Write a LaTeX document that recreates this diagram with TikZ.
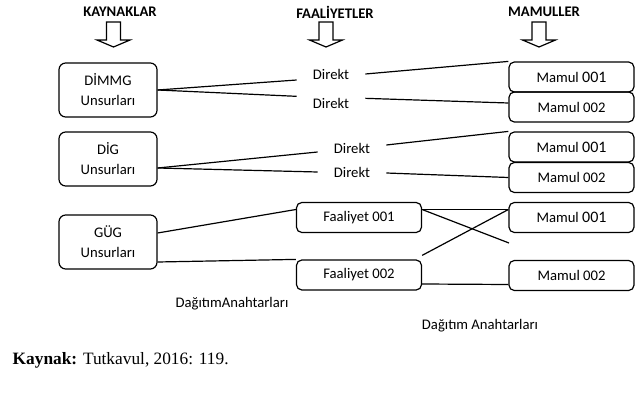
\documentclass[tikz,border=0pt]{standalone}
\usepackage{fontspec}
\setmainfont{Carlito}
\newfontfamily\timesfont{Liberation Serif}

\begin{document}
\begin{tikzpicture}[
        x=0.75pt,y=-0.75pt,
        every node/.style={font=\fontsize{11}{15}\selectfont},
        header/.style={font=\fontsize{11}{13}\selectfont\bfseries},
        source/.style={draw,rounded corners=5pt,minimum width=73.5pt,minimum height=40.5pt,align=center,line width=0.9pt},
        product/.style={draw,rounded corners=4pt,minimum width=93.75pt,minimum height=22.5pt,line width=0.9pt},
        direkt/.style={inner xsep=12pt},
        link/.style={line width=0.9pt}
    ]
        \useasboundingbox (0,0) rectangle (644,414);

        % Define the headers and the big arrows
        \node[header] (kaynaklar) at (120,12) {KAYNAKLAR};
        \node[header] (faaliyetler) at (335,12) {FAALİYETLER};
        \node[header] (mamuller) at (544,12) {MAMULLER};
        \foreach \ax in {113.5,326,539}
            \draw[link] (\ax-7,22) -- (\ax+7,22) -- (\ax+7,40) -- (\ax+16.5,40)
                -- (\ax,47) -- (\ax-16.5,40) -- (\ax-7,40) -- cycle;

        % Define the nodes
        \node[source] (dimmg) at (108,90) {DİMMG\\Unsurları};
        \node[source] (dig) at (108,159) {DİG\\Unsurları};
        \node[source] (gug) at (108,242) {GÜG\\Unsurları};

        \node[direkt] (d1) at (331,74) {Direkt};
        \node[direkt] (d2) at (331,103) {Direkt};
        \node[direkt] (d3) at (352,148) {Direkt};
        \node[direkt] (d4) at (352,172) {Direkt};

        \node[product] (f1) at (359,217.5) {Faaliyet 001};
        \node[product] (f2) at (359,275) {Faaliyet 002};

        \node[product] (m1) at (571.5,77) {Mamul {\fontsize{12}{14}\selectfont 001}};
        \node[product] (m2) at (571.5,107) {Mamul 002};
        \node[product] (m3) at (571.5,147) {Mamul {\fontsize{12}{14}\selectfont 001}};
        \node[product] (m4) at (571.5,177.5) {Mamul 002};
        \node[product] (m5) at (571.5,217.5) {Mamul {\fontsize{12}{14}\selectfont 001}};
        \node[product] (m6) at (571.5,275.5) {Mamul 002};
        \coordinate (x1) at (509,243);

        \node (anahtar1) at (232,304) {DağıtımAnahtarları};
        \node (anahtar2) at (480,326) {Dağıtım Anahtarları};
        \node[anchor=west,font=\timesfont\fontsize{13}{15}\selectfont] (kaynak) at (8,360)
            {\textbf{Kaynak:} Tutkavul, 2016: 119.};

        % Draw the links of DİMMG and DİG
        \draw[link] (dimmg.east) -- ([yshift=-4.5pt]d1.west);
        \draw[link] (dimmg.east) -- ([yshift=5pt]d2.west);
        \draw[link] (d1.east) -- (m1.north west);
        \draw[link] ([yshift=3.5pt]d2.east) -- ([yshift=3pt]m2.west);

        \draw[link] ([yshift=-6.75pt]dig.east) -- ([yshift=-3pt]d3.west);
        \draw[link] ([yshift=-6.75pt]dig.east) -- (d4.west);
        \draw[link] ([yshift=2.25pt]d3.east) -- (m3.north west);
        \draw[link] ([yshift=-0.75pt]d4.east) -- (m4.west);

        % Draw the links of GÜG through the activities
        \draw[link] ([yshift=6.75pt]gug.east) -- ([yshift=6pt]f1.west);
        \draw[link] ([yshift=-15pt]gug.east) -- (f2.north west);
        \draw[link] ([yshift=6pt]f1.east) -- ([yshift=6pt]m5.west);
        \draw[link] ([yshift=6pt]f1.east) -- (x1);
        \draw[link] ([yshift=3pt]f2.north east) -- ([yshift=6pt]m5.west);
        \draw[link] ([yshift=-6.75pt]f2.east) -- ([yshift=-6.75pt]m6.west); % Close the last link
\end{tikzpicture}
\end{document}
